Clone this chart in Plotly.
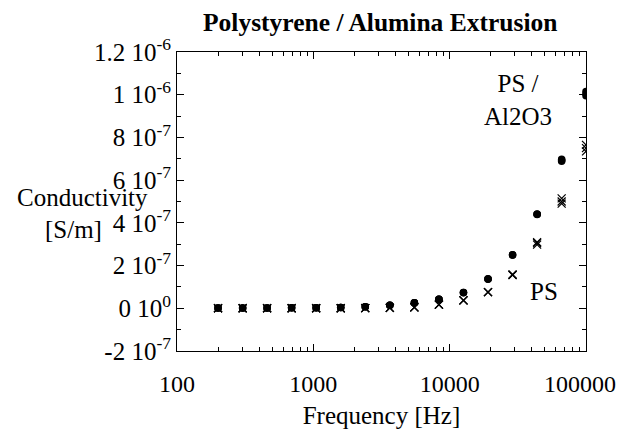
import plotly.graph_objects as go

# ---- data ----
freq_hz = [200, 303, 458, 693, 1049, 1588, 2404, 3640, 5510, 8340,
           12625, 19111, 28928, 43789, 66284, 100000]

# PS / Al2O3 (filled circles), conductivity in S/m, three runs
alumina_run1 = [0.1e-8, 0.1e-8, 0.1e-8, 0.2e-8, 0.3e-8, 0.4e-8, 0.7e-8, 1.4e-8, 2.6e-8, 4.2e-8,
                7.4e-8, 1.37e-7, 2.50e-7, 4.40e-7, 6.88e-7, 0.995e-6]
alumina_run2 = [0.1e-8, 0.1e-8, 0.1e-8, 0.2e-8, 0.3e-8, 0.4e-8, 0.7e-8, 1.4e-8, 2.6e-8, 4.2e-8,
                7.3e-8, 1.36e-7, 2.49e-7, 4.39e-7, 6.93e-7, 1.005e-6]
alumina_run3 = [0.1e-8, 0.1e-8, 0.1e-8, 0.2e-8, 0.3e-8, 0.4e-8, 0.7e-8, 1.4e-8, 2.6e-8, 4.2e-8,
                7.4e-8, 1.38e-7, 2.51e-7, 4.41e-7, 6.98e-7, 1.015e-6]

# PS (x marks), three runs
ps_run1 = [0.0, 0.0, 0.0, 0.0, 0.0, 0.0, 0.1e-8, 0.2e-8, 0.4e-8, 1.7e-8,
           3.7e-8, 7.6e-8, 1.55e-7, 2.98e-7, 4.90e-7, 7.35e-7]
ps_run2 = [0.0, 0.0, 0.0, 0.0, 0.0, 0.0, 0.1e-8, 0.2e-8, 0.4e-8, 1.7e-8,
           3.7e-8, 7.6e-8, 1.57e-7, 3.05e-7, 5.00e-7, 7.50e-7]
ps_run3 = [0.0, 0.0, 0.0, 0.0, 0.0, 0.0, 0.1e-8, 0.2e-8, 0.4e-8, 1.7e-8,
           3.7e-8, 7.6e-8, 1.58e-7, 3.10e-7, 5.15e-7, 7.65e-7]

y_tick_vals = [-2e-7, 0, 2e-7, 4e-7, 6e-7, 8e-7, 1e-6, 1.2e-6]
y_tick_text = ["-2 10<sup>-7</sup>", "0 10<sup>0</sup>", "2 10<sup>-7</sup>", "4 10<sup>-7</sup>",
               "6 10<sup>-7</sup>", "8 10<sup>-7</sup>", "1 10<sup>-6</sup>", "1.2 10<sup>-6</sup>"]
x_tick_vals = [100, 1000, 10000, 100000]
x_tick_text = ["100", "1000", "10000", "100000\u00a0\u00a0"]
x_minor_vals = [m * d for d in (100, 1000, 10000) for m in range(2, 10)]

FONT = "Liberation Serif"

fig = go.Figure()
for run in (alumina_run1, alumina_run2, alumina_run3):
    fig.add_trace(go.Scatter(x=freq_hz, y=run, mode="markers",
                             marker=dict(symbol="circle", size=7.5, color="black"),
                             showlegend=False))
for run in (ps_run1, ps_run2, ps_run3):
    fig.add_trace(go.Scatter(x=freq_hz, y=run, mode="markers",
                             marker=dict(symbol="x-thin", size=8,
                                         line=dict(color="black", width=1.2)),
                             showlegend=False))

# the page body has an 8 px default margin, so the figure is 8 px smaller
fig.update_layout(
    width=616, height=424,
    margin=dict(l=169, r=38, t=44, b=81, autoexpand=False),
    paper_bgcolor="white", plot_bgcolor="white",
    font=dict(family=FONT, size=24, color="black"),
    showlegend=False,
)

fig.update_xaxes(
    type="log", range=[2, 5], automargin=False,
    tickvals=x_tick_vals, ticktext=x_tick_text,
    ticks="inside", ticklen=7, tickwidth=1, tickcolor="black",
    minor=dict(ticks="inside", ticklen=4, tickwidth=1, tickcolor="black",
               tickvals=x_minor_vals, showgrid=False),
    showline=True, linecolor="black", linewidth=1, mirror="allticks",
    showgrid=False, zeroline=False,
    title=dict(text="Frequency [Hz]", font=dict(family=FONT, size=25), standoff=10),
    tickfont=dict(family=FONT, size=24),
    ticklabelstandoff=11,
    ticklabeloverflow="allow",
)
fig.update_yaxes(
    range=[-2e-7, 1.2e-6], automargin=False,
    tickvals=y_tick_vals, ticktext=y_tick_text,
    ticks="inside", ticklen=7, tickwidth=1, tickcolor="black",
    minor=dict(ticks="inside", ticklen=4, tickwidth=1, tickcolor="black",
               dtick=1e-7, tick0=0, showgrid=False),
    showline=True, linecolor="black", linewidth=1, mirror="allticks",
    showgrid=False, zeroline=False,
    tickfont=dict(family=FONT, size=25),
    ticklabelstandoff=0,
    ticklabeloverflow="allow",
)

fig.add_annotation(text="<b>Polystyrene / Alumina Extrusion</b>", xref="paper", yref="paper",
                   x=0.496, y=1.10, showarrow=False, font=dict(family=FONT, size=25.5),
                   xanchor="center", yanchor="middle")
fig.add_annotation(text="Conductivity", xref="paper", yref="paper",
                   x=-0.232, y=0.512, showarrow=False, font=dict(family=FONT, size=25),
                   xanchor="center", yanchor="middle")
fig.add_annotation(text="[S/m]", xref="paper", yref="paper",
                   x=-0.252, y=0.408, showarrow=False, font=dict(family=FONT, size=25),
                   xanchor="center", yanchor="middle")
fig.add_annotation(text="PS /<br>Al2O3", xref="paper", yref="paper",
                   x=0.834, y=0.84, showarrow=False, font=dict(family=FONT, size=25),
                   xanchor="center", yanchor="middle", align="center")
fig.add_annotation(text="PS", xref="paper", yref="paper",
                   x=0.897, y=0.20, showarrow=False, font=dict(family=FONT, size=25),
                   xanchor="center", yanchor="middle")

fig.write_html("out.html")
